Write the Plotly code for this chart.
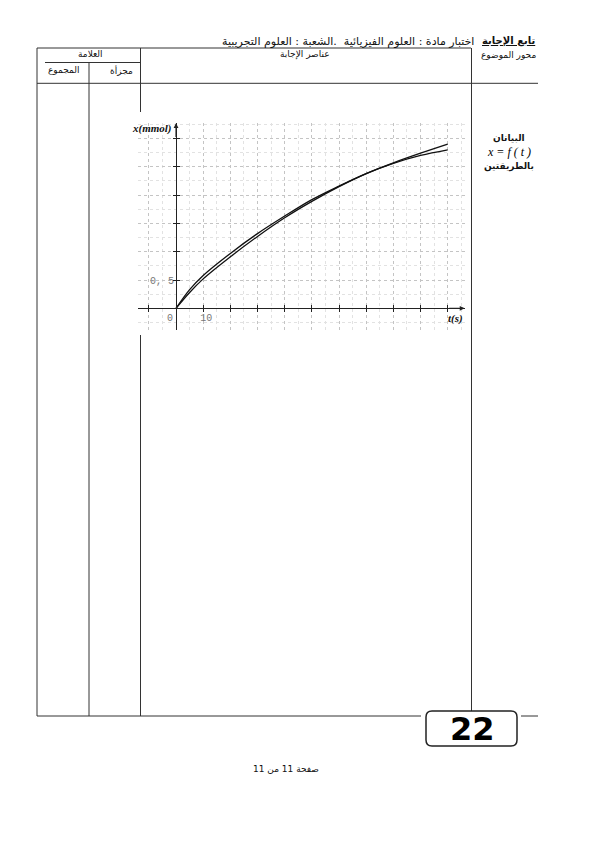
import plotly.graph_objects as go

# ---- data ----
t_s = [0, 5, 10, 20, 30, 40, 50, 60, 70, 80, 90, 100]
x_curve_a = [0, 0.33, 0.58, 0.97, 1.32, 1.63, 1.92, 2.16, 2.38, 2.56, 2.70, 2.80]
x_curve_b = [0, 0.28, 0.52, 0.91, 1.27, 1.60, 1.89, 2.15, 2.38, 2.57, 2.74, 2.90]
x_tickvals = [-10, 0, 10, 20, 30, 40, 50, 60, 70, 80, 90, 100]
x_ticktext = ["", "0\u00a0\u00a0", "\u00a010", "", "", "", "", "", "", "", "", ""]
y_tickvals = [0.5, 1.0, 1.5, 2.0, 2.5, 3.0]
y_ticktext = ["0, 5", "", "", "", "", ""]

W, H = 600, 849
def PX(p):
    return p / W
def PY(p):
    return 1 - p / H

X_RANGE = [-14, 106.4]
Y_RANGE = [-0.383, 3.274]
X_DOM = [PX(138), PX(465.1)]
Y_DOM = [PY(330), PY(123)]
X_POS = PY(308.3)   # y-paper of x axis (value 0)
Y_POS = PX(176)     # x-paper of y axis (t = 0)

fig = go.Figure()
for ys in (x_curve_a, x_curve_b):
    fig.add_trace(go.Scatter(x=t_s, y=ys, mode="lines", line=dict(color="#111", width=1.3, shape="spline"),
                             hoverinfo="skip", showlegend=False))
fig.add_trace(go.Scatter(x=[None], y=[None], xaxis="x2", yaxis="y2", showlegend=False, hoverinfo="skip"))

tickfont = dict(family="Liberation Mono", size=10, color="#777")
common_x = dict(range=X_RANGE, domain=X_DOM, anchor="free", position=X_POS, tickmode="array",
                tickvals=x_tickvals, showline=True, linecolor="#222", linewidth=1.2, zeroline=False,
                tickcolor="#222", ticklen=3, tickwidth=1.2, fixedrange=True)
common_y = dict(range=Y_RANGE, domain=Y_DOM, anchor="free", position=Y_POS, tickmode="array",
                tickvals=y_tickvals, showline=True, linecolor="#222", linewidth=1.2, zeroline=False,
                tickcolor="#222", ticklen=3, tickwidth=1.2, fixedrange=True)

fig.update_layout(
    width=W, height=H, margin=dict(l=0, r=0, t=0, b=0),
    paper_bgcolor="white", plot_bgcolor="white", showlegend=False,
    xaxis=dict(**common_x, ticks="inside", ticktext=x_ticktext, tickfont=tickfont,
               showgrid=True, gridcolor="#c4c4c4", griddash="dot", gridwidth=1,
               minor=dict(tickmode="linear", tick0=-15, dtick=10, showgrid=True, gridcolor="#e2e2e2",
                          griddash="dot", ticks="")),
    yaxis=dict(**common_y, ticks="inside", ticktext=y_ticktext, tickfont=tickfont,
               showgrid=True, gridcolor="#c4c4c4", griddash="dot", gridwidth=1,
               minor=dict(tickmode="linear", tick0=0.25, dtick=0.5, showgrid=True, gridcolor="#e2e2e2",
                          griddash="dot", ticks="")),
    xaxis2=dict(**common_x, overlaying="x", ticks="outside", showticklabels=False, showgrid=False),
    yaxis2=dict(**common_y, overlaying="y", ticks="outside", showticklabels=False, showgrid=False),
)

# axis arrows and titles
fig.add_annotation(x=106.2, y=0, ax=100, ay=0, xref="x", yref="y", axref="x", ayref="y",
                   showarrow=True, arrowhead=2, arrowsize=0.8, arrowwidth=1.2, arrowcolor="#222", text="")
fig.add_annotation(x=0, y=3.27, ax=0, ay=3.0, xref="x", yref="y", axref="x", ayref="y",
                   showarrow=True, arrowhead=2, arrowsize=0.8, arrowwidth=1.2, arrowcolor="#222", text="")
fig.add_annotation(x=PX(174), y=PY(129), xref="paper", yref="paper", xanchor="right", yanchor="middle",
                   text="<b><i>x(mmol)</i></b>", showarrow=False,
                   font=dict(family="Liberation Serif", size=11, color="#111"))
fig.add_annotation(x=PX(465), y=PY(318), xref="paper", yref="paper", xanchor="right", yanchor="middle",
                   text="<b><i>t(s)</i></b>", showarrow=False,
                   font=dict(family="Liberation Serif", size=11, color="#111"))

# ---- page table ----
LC = "#333"
def hline(y, x0, x1, w=1):
    fig.add_shape(type="line", xref="paper", yref="paper", x0=PX(x0), x1=PX(x1), y0=PY(y), y1=PY(y),
                  line=dict(color=LC, width=w))
def vline(x, y0, y1, w=1):
    fig.add_shape(type="line", xref="paper", yref="paper", x0=PX(x), x1=PX(x), y0=PY(y0), y1=PY(y1),
                  line=dict(color=LC, width=w))

hline(48, 37, 471)
hline(62.5, 45, 140)
hline(83.3, 37, 538)
hline(716, 37, 421)
hline(716, 521, 538)
vline(37, 48, 716)
vline(89, 62.5, 716)
vline(140.5, 48, 112)
vline(140.5, 335, 716)
vline(471.5, 48, 711)

# "22" rounded box
x0, x1, y0, y1, r = 426, 517, 711, 746, 6
path = (f"M {PX(x0 + r)} {PY(y0)} L {PX(x1 - r)} {PY(y0)} Q {PX(x1)} {PY(y0)} {PX(x1)} {PY(y0 + r)} "
        f"L {PX(x1)} {PY(y1 - r)} Q {PX(x1)} {PY(y1)} {PX(x1 - r)} {PY(y1)} "
        f"L {PX(x0 + r)} {PY(y1)} Q {PX(x0)} {PY(y1)} {PX(x0)} {PY(y1 - r)} "
        f"L {PX(x0)} {PY(y0 + r)} Q {PX(x0)} {PY(y0)} {PX(x0 + r)} {PY(y0)} Z")
fig.add_shape(type="path", xref="paper", yref="paper", path=path, line=dict(color="#222", width=1.5))

def txt(x, y, s, size=10, anchor="center", family="DejaVu Sans", color="#111"):
    fig.add_annotation(x=PX(x), y=PY(y), xref="paper", yref="paper", text=s, showarrow=False,
                       xanchor=anchor, yanchor="middle", font=dict(family=family, size=size, color=color))

txt(537, 41, "<b><u>تابع الإجابة</u></b>", size=10, anchor="right")
txt(476, 41, "اختبار مادة : العلوم الفيزيائية  .الشعبة : العلوم التجريبية", size=11, anchor="right")
txt(90, 54, "العلامة", size=9)
txt(121, 70, "مجزأة", size=9)
txt(63, 70, "المجموع", size=9)
txt(305, 54, "عناصر الإجابة", size=9)
txt(538, 55, "محور الموضوع", size=9, anchor="right")
txt(509, 138, "<b>البيانان</b>", size=9)
txt(509, 152, "<i>x = f ( t )</i>", size=12, family="Liberation Serif", color="#000")
txt(509, 166, "<b>بالطريقتين</b>", size=9)
txt(472, 729, "<b>22</b>", size=32, family="DejaVu Sans", color="#000")
txt(286, 769, "صفحة 11 من 11", size=9)

fig.write_html("out.html")
